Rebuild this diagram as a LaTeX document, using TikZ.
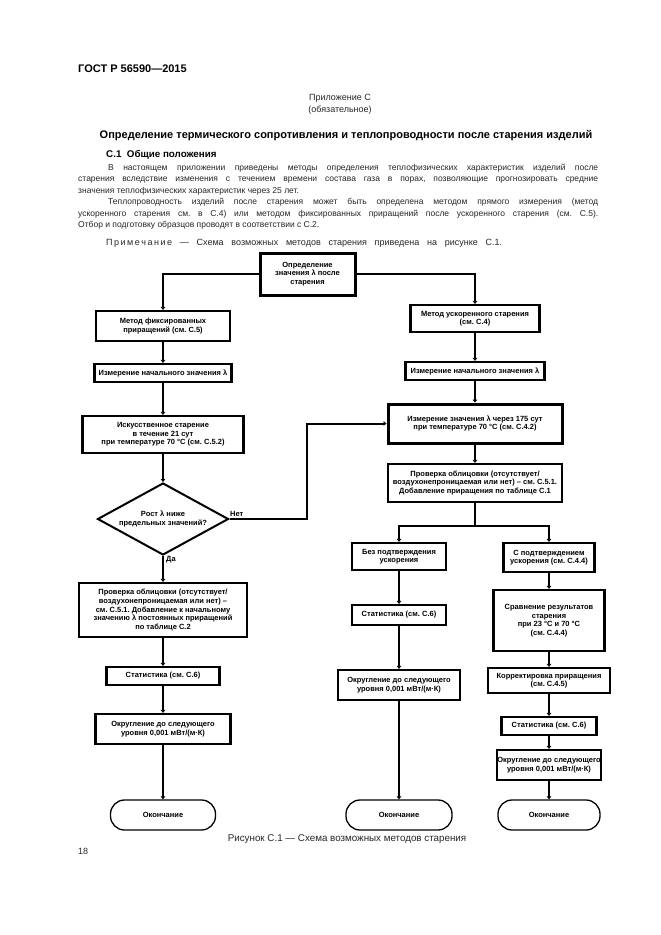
\documentclass[tikz,border=0pt]{standalone}
\usepackage{fontspec}
\setmainfont{Liberation Sans}
\usetikzlibrary{arrows.meta,shapes.geometric}
\frenchspacing
\newcommand\flowfnt{\bfseries\fontsize{7.5}{8.6}\selectfont}
\newcommand\bodyfnt{\fontsize{8.5}{11}\selectfont}
\begin{document}
\begin{tikzpicture}[x=1pt,y=-1pt,
  box/.style={draw, line width=2.2pt, rectangle, align=center, inner sep=0.5pt, font=\flowfnt},
  thickbox/.style={box, line width=3pt},
  oval/.style={draw, line width=1.3pt, rectangle, rounded corners=14pt, align=center, inner sep=1pt, font=\flowfnt},
  decision/.style={draw, line width=2pt, diamond, aspect=1.82, align=center, inner sep=0pt, font=\flowfnt},
  conn/.style={line width=2pt, -{Triangle[length=3pt,width=4.5pt]}},
  plain/.style={line width=2pt},
  lbl/.style={font=\flowfnt, inner sep=0pt},
  body/.style={anchor=base west, inner sep=0pt, font=\bodyfnt, text=black!85},
  bodyc/.style={anchor=base, inner sep=0pt, font=\fontsize{9}{11}\selectfont, text=black!85}]
\useasboundingbox (0,0) rectangle (661,935);
\fill[white] (0,0) rectangle (661,935);

% ---- page header and text ----
\node[anchor=base west, inner sep=0pt, font=\bfseries\fontsize{11}{13}\selectfont] (gost) at (78,72) {ГОСТ Р 56590—2015};
\node[bodyc] (app) at (340,100) {Приложение С};
\node[bodyc] (obl) at (340,112) {(обязательное)};
\node[anchor=base, inner sep=0pt, font=\bfseries\fontsize{11}{13}\selectfont] (title) at (346,138) {Определение термического сопротивления и теплопроводности после старения изделий};
\node[anchor=base west, inner sep=0pt, font=\bfseries\fontsize{9.8}{11}\selectfont] (sec) at (106,157) {С.1\ \ Общие положения};
\node[body] (l1) at (108,170) {\makebox[490pt][s]{В настоящем приложении приведены методы определения теплофизических характеристик изделий после}};
\node[body] (l2) at (78,181.5) {\makebox[520pt][s]{старения вследствие изменения с течением времени состава газа в порах, позволяющие прогнозировать средние}};
\node[body] (l3) at (78,193) {значения теплофизических характеристик через 25 лет.};
\node[body] (l4) at (108,204.5) {\makebox[490pt][s]{Теплопроводность изделий после старения может быть определена методом прямого измерения (метод}};
\node[body] (l5) at (78,216) {\makebox[520pt][s]{ускоренного старения см. в С.4) или методом фиксированных приращений после ускоренного старения (см. С.5).}};
\node[body] (l6) at (78,227.5) {Отбор и подготовку образцов проводят в соответствии с С.2.};
\node[body, font=\fontsize{9}{11}\selectfont] (note) at (106,245) {\makebox[396pt][s]{П\,р\,и\,м\,е\,ч\,а\,н\,и\,е — Схема возможных методов старения приведена на рисунке С.1.}};
\node[anchor=base, inner sep=0pt, font=\fontsize{9.8}{11}\selectfont, text=black!85] (cap) at (347,841) {Рисунок С.1 — Схема возможных методов старения};
\node[body, font=\fontsize{9}{11}\selectfont] (pg) at (78,854) {18};

% ---- flowchart nodes ----
\node[thickbox, minimum width=95pt, minimum height=42pt] (top) at (307.5,274) {Определение\\значения λ после\\старения};
% left branch
\node[box, minimum width=134pt, minimum height=30pt] (fix) at (163,326) {Метод фиксированных\\приращений (см. С.5)};
\node[box, minimum width=137pt, minimum height=18pt] (izm1) at (163,373) {Измерение начального значения λ};
\node[box, minimum width=161pt, minimum height=37pt] (isk) at (163,434.5) {Искусственное старение\\в течение 21 сут\\при температуре 70 °С (см. С.5.2)};
\node[decision, minimum width=131pt, minimum height=72pt] (dia) at (163,519) {Рост λ ниже\\предельных значений?};
\node[box, minimum width=168pt, minimum height=54pt] (prov1) at (163,610) {Проверка облицовки (отсутствует/\\воздухонепроницаемая или нет) –\\см. С.5.1. Добавление к начальному\\значению λ постоянных приращений\\по таблице С.2};
\node[box, minimum width=113pt, minimum height=18pt] (stat1) at (163,676) {Статистика (см. С.6)};
\node[box, minimum width=135pt, minimum height=30pt] (okr1) at (163,729) {Округление до следующего\\уровня 0,001 мВт/(м·К)};
\node[oval, minimum width=105pt, minimum height=30pt] (end1) at (163,815) {Окончание};
% right branch
\node[box, minimum width=129pt, minimum height=27pt] (uskm) at (475,318.5) {Метод ускоренного старения\\(см. С.4)};
\node[box, minimum width=139pt, minimum height=18pt] (izm2) at (475,371) {Измерение начального значения λ};
\node[thickbox, minimum width=174pt, minimum height=39pt] (izm175) at (475,423.5) {Измерение значения λ через 175 сут\\при температуре 70 °С (см. С.4.2)};
\node[box, minimum width=174pt, minimum height=38pt] (prov2) at (475,483) {Проверка облицовки (отсутствует/\\воздухонепроницаемая или нет) – см. С.5.1.\\Добавление приращения по таблице С.1};
% middle column
\node[box, minimum width=94pt, minimum height=27pt] (bez) at (399,556.5) {Без подтверждения\\ускорения};
\node[box, minimum width=94pt, minimum height=20pt] (stat2) at (399,615) {Статистика (см. С.6)};
\node[box, minimum width=122pt, minimum height=30pt] (okr2) at (399,685) {Округление до следующего\\уровня 0,001 мВт/(м·К)};
\node[oval, minimum width=106pt, minimum height=30pt] (end2) at (399,815) {Окончание};
% right column
\node[box, minimum width=91pt, minimum height=29pt] (spod) at (549,557.5) {С подтверждением\\ускорения (см. С.4.4)};
\node[box, minimum width=111pt, minimum height=61pt] (srav) at (549,620.5) {Сравнение результатов\\старения\\при 23 °С и 70 °С\\(см. С.4.4)};
\node[box, minimum width=122pt, minimum height=25pt] (korr) at (549,680.5) {Корректировка приращения\\(см. С.4.5)};
\node[box, minimum width=95pt, minimum height=18pt] (stat3) at (549,726) {Статистика (см. С.6)};
\node[box, minimum width=104pt, minimum height=30pt] (okr3) at (549,765) {Округление до следующего\\уровня 0,001 мВт/(м·К)};
\node[oval, minimum width=102pt, minimum height=30pt] (end3) at (549,815) {Окончание};

% ---- connectors ----
\draw[conn] (top.west) -| (fix.north);
\draw[conn] (top.east) -| (uskm.north);
\draw[conn] (fix) -- (izm1);
\draw[conn] (izm1) -- (isk);
\draw[conn] (isk) -- (dia);
\draw[conn] (dia.south) -- (prov1.north);
\draw[conn] (prov1) -- (stat1);
\draw[conn] (stat1) -- (okr1);
\draw[conn] (okr1) -- (end1);
\coordinate (nb) at (307,519);
\draw[conn] (dia.east) -- (nb) |- (izm175.west);
\node[lbl, anchor=south west] (net) at (230,517) {Нет};
\node[lbl, anchor=north west] (da) at (166,556) {Да};
\draw[conn] (uskm) -- (izm2);
\draw[conn] (izm2) -- (izm175);
\draw[conn] (izm175) -- (prov2);
\coordinate (jn) at (475,526);
\draw[plain] (prov2.south) -- (jn);
\draw[conn] (jn) -| (bez.north);
\draw[conn] (jn) -| (spod.north);
\draw[conn] (bez) -- (stat2);
\draw[conn] (stat2) -- (okr2);
\draw[conn] (okr2) -- (end2);
\draw[conn] (spod) -- (srav);
\draw[conn] (srav) -- (korr);
\draw[conn] (korr) -- (stat3);
\draw[conn] (stat3) -- (okr3);
\draw[conn] (okr3) -- (end3);
\end{tikzpicture}
\end{document}
